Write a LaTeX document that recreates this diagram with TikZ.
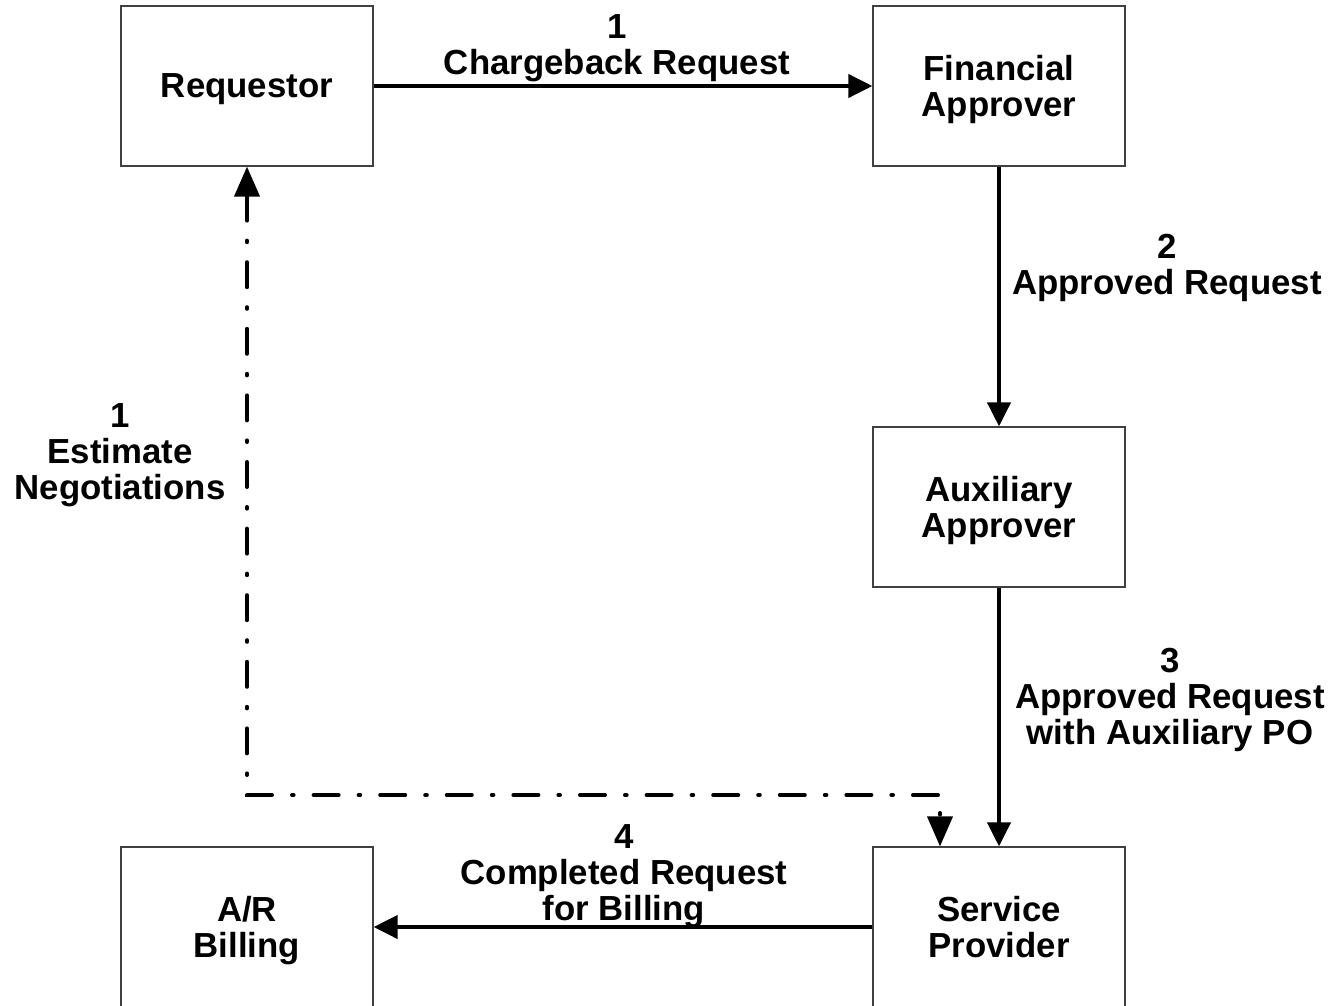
\documentclass[tikz,border=0pt]{standalone}
\usepackage{fontspec}
\setmainfont{Liberation Sans}
\usetikzlibrary{arrows.meta}

\begin{document}
\begin{tikzpicture}[x=0.5pt,y=-0.5pt]
        \tikzset{party/.style = {shape=rectangle, draw=black!75, line width=0.6pt,
                minimum width=126pt, minimum height=80pt, align=center, text depth=0pt,
                font=\bfseries\fontsize{17.4}{18}\selectfont}}
        \tikzset{flowlabel/.style = {align=center, inner sep=0pt, text depth=0pt,
                font=\bfseries\fontsize{17.4}{18}\selectfont}}
        \tikzset{edge/.style = {line width=2pt, -{Triangle[length=12pt, width=11.5pt]}}}
        \tikzset{negot/.style = {line width=2pt, line cap=round,
                dash pattern=on 12.5pt off 10pt on 0.8pt off 10pt,
                {Triangle[length=15pt, width=12.5pt]}-{Triangle[length=15pt, width=12.5pt]}}}

        \useasboundingbox (0, 0) rectangle (1333, 1006);

        \node[party] (req) at (247, 86) {Requestor};
        \node[party] (fin) at (999, 86) {Financial\\Approver};
        \node[party] (aux) at (999, 507) {Auxiliary\\Approver};
        \node[party] (bill) at (247, 927) {A/R\\Billing};
        \node[party] (prov) at (999, 927) {Service\\Provider};

        \draw[edge] (req) to (fin);
        \draw[edge] (fin) to (aux);
        \draw[edge] (aux) to (prov);
        \draw[edge] (prov) to (bill);

        \coordinate (negL) at (247, 795);
        \coordinate (negR) at (940, 795);
        \draw[negot] (req.south) -- (negL) -- (negR) -- (negR |- prov.north);

        \node[flowlabel] (l1) at (617, 45) {1\\Chargeback Request};
        \node[flowlabel] (l2) at (1167, 264) {2\\Approved Request};
        \node[flowlabel] (l3) at (1170, 696) {3\\Approved Request\\with Auxiliary PO};
        \node[flowlabel] (l4) at (624, 873) {4\\Completed Request\\for Billing};
        \node[flowlabel] (l5) at (120, 452) {1\\Estimate\\Negotiations};
    \end{tikzpicture}
\end{document}
